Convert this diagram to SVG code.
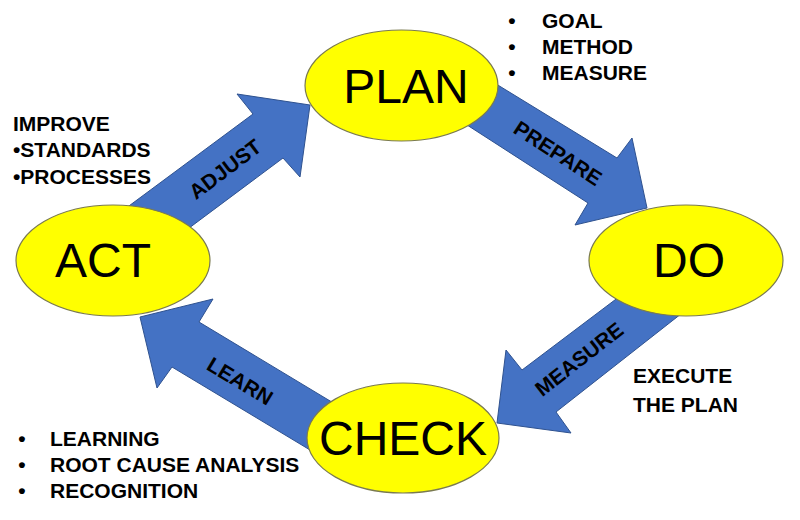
<svg xmlns="http://www.w3.org/2000/svg" width="800" height="520" viewBox="0 0 800 520">
<style>
.arrow{fill:#4472C4;stroke:#2F528F;stroke-width:1;stroke-linejoin:miter}
.node ellipse{fill:#FFFF00;stroke:#7A7A50;stroke-width:1.2}
.big{font-family:"Liberation Sans",Arial,sans-serif;font-size:48px;fill:#000;text-anchor:middle}
.alabel{font-family:"Liberation Sans",Arial,sans-serif;font-size:21px;font-weight:bold;fill:#000;text-anchor:middle}
.side{font-family:"Liberation Sans",Arial,sans-serif;font-size:21px;font-weight:bold;fill:#000}
.bul{text-anchor:middle}
</style>
<rect width="800" height="520" fill="#FFFFFF"/>
<g id="connectors">
  <g id="adjust">
    <polygon class="arrow" points="110,220 253,114 237,94 310,105 300,177 283,158 169,243"/>
    <text class="alabel" transform="translate(225,169) rotate(-37)" y="7.5">ADJUST</text>
  </g>
  <g id="prepare">
    <polygon class="arrow" points="470,68 617,158 632,138 647,208 575,225 588,203 450,114"/>
    <text class="alabel" transform="translate(558,153) rotate(33)" y="7.5">PREPARE</text>
  </g>
  <g id="measure">
    <polygon class="arrow" points="640,281 522,370 506,350 497,423 571,433 556,412 700,299"/>
    <text class="alabel" transform="translate(579,359) rotate(-38)" y="7.5">MEASURE</text>
  </g>
  <g id="learn">
    <polygon class="arrow" points="140,317 213,299 199,322 360,419 340,468 172,367 157,388"/>
    <text class="alabel" transform="translate(240,381) rotate(31)" y="7.5">LEARN</text>
  </g>
</g>
<g id="plan" class="node">
  <ellipse cx="401.5" cy="85.5" rx="96.5" ry="55.5"/>
  <text class="big" x="406" y="103">PLAN</text>
</g>
<g id="do" class="node">
  <ellipse cx="686" cy="260.5" rx="97" ry="55.5"/>
  <text class="big" x="689" y="277">DO</text>
</g>
<g id="check" class="node">
  <ellipse cx="403" cy="438" rx="96" ry="55"/>
  <text class="big" x="403" y="455">CHECK</text>
</g>
<g id="act" class="node">
  <ellipse cx="113" cy="260.5" rx="97" ry="55.5"/>
  <text class="big" x="103" y="277">ACT</text>
</g>
<g id="act-notes">
  <text class="side" x="13" y="131">IMPROVE</text>
  <text class="side" x="13" y="157">•STANDARDS</text>
  <text class="side" x="13" y="184">•PROCESSES</text>
</g>
<g id="plan-notes">
  <text class="side bul" x="512" y="28">•</text>
  <text class="side bul" x="512" y="54">•</text>
  <text class="side bul" x="512" y="80">•</text>
  <text class="side" x="542" y="28">GOAL</text>
  <text class="side" x="542" y="54">METHOD</text>
  <text class="side" x="542" y="80">MEASURE</text>
</g>
<g id="do-notes">
  <text class="side" x="633" y="383">EXECUTE</text>
  <text class="side" x="633" y="412">THE PLAN</text>
</g>
<g id="check-notes">
  <text class="side bul" x="22" y="446">•</text>
  <text class="side bul" x="22" y="472">•</text>
  <text class="side bul" x="22" y="498">•</text>
  <text class="side" x="50" y="446">LEARNING</text>
  <text class="side" x="50" y="472">ROOT CAUSE ANALYSIS</text>
  <text class="side" x="50" y="498">RECOGNITION</text>
</g>
</svg>
